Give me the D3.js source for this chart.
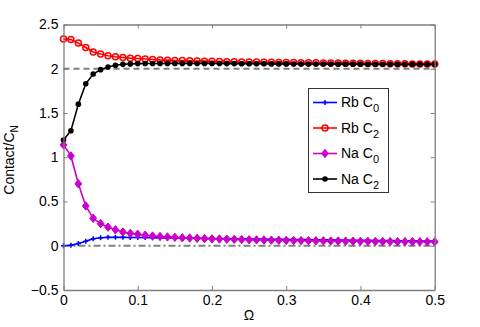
<!DOCTYPE html>
<html>
<head>
<meta charset="utf-8">
<script src="https://cdn.jsdelivr.net/npm/d3@7"></script>
<style>
  body { margin: 0; background: #fff; }
  svg { display: block; font-family: "Liberation Sans", Arial, sans-serif; }
</style>
</head>
<body>
<svg id="chart"></svg>
<script>
// Omega values (x axis)
const omega = [0, 0.01, 0.02, 0.03, 0.04, 0.05, 0.06, 0.07, 0.08, 0.09,
  0.10, 0.11, 0.12, 0.13, 0.14, 0.15, 0.16, 0.17, 0.18, 0.19,
  0.20, 0.21, 0.22, 0.23, 0.24, 0.25, 0.26, 0.27, 0.28, 0.29,
  0.30, 0.31, 0.32, 0.33, 0.34, 0.35, 0.36, 0.37, 0.38, 0.39,
  0.40, 0.41, 0.42, 0.43, 0.44, 0.45, 0.46, 0.47, 0.48, 0.49, 0.50];

const rbC0 = [0.00, 0.005, 0.025, 0.05, 0.08, 0.09, 0.095, 0.095, 0.095, 0.094,
  0.093, 0.092, 0.09, 0.089, 0.088, 0.087, 0.086, 0.085, 0.084, 0.083,
  0.082, 0.081, 0.08, 0.079, 0.078, 0.077, 0.076, 0.075, 0.074, 0.073,
  0.072, 0.071, 0.07, 0.069, 0.068, 0.067, 0.066, 0.065, 0.064, 0.063,
  0.062, 0.061, 0.06, 0.059, 0.058, 0.057, 0.056, 0.055, 0.054, 0.053, 0.052];

const rbC2 = [2.335, 2.33, 2.29, 2.24, 2.19, 2.167, 2.147, 2.136, 2.128, 2.12,
  2.115, 2.11, 2.105, 2.10, 2.097, 2.094, 2.092, 2.09, 2.088, 2.086,
  2.084, 2.082, 2.08, 2.078, 2.077, 2.076, 2.075, 2.074, 2.073, 2.072,
  2.071, 2.07, 2.069, 2.068, 2.067, 2.066, 2.065, 2.064, 2.063, 2.062,
  2.061, 2.06, 2.059, 2.058, 2.057, 2.056, 2.056, 2.055, 2.055, 2.054, 2.054];

const naC0 = [1.14, 1.015, 0.70, 0.45, 0.31, 0.25, 0.21, 0.18, 0.155, 0.14,
  0.13, 0.12, 0.11, 0.105, 0.10, 0.095, 0.09, 0.087, 0.084, 0.081,
  0.078, 0.076, 0.074, 0.072, 0.07, 0.068, 0.066, 0.065, 0.063, 0.062,
  0.06, 0.059, 0.058, 0.057, 0.056, 0.055, 0.054, 0.053, 0.052, 0.051,
  0.05, 0.049, 0.048, 0.048, 0.047, 0.046, 0.046, 0.045, 0.045, 0.044, 0.044];

const naC2 = [1.195, 1.30, 1.60, 1.83, 1.94, 1.99, 2.02, 2.04, 2.05, 2.055,
  2.058, 2.06, 2.06, 2.06, 2.06, 2.06, 2.06, 2.06, 2.06, 2.06,
  2.059, 2.059, 2.058, 2.058, 2.057, 2.057, 2.056, 2.056, 2.055, 2.055,
  2.055, 2.054, 2.054, 2.054, 2.053, 2.053, 2.053, 2.052, 2.052, 2.052,
  2.052, 2.051, 2.051, 2.051, 2.051, 2.05, 2.05, 2.05, 2.05, 2.05, 2.05];

const xTicks = [0, 0.1, 0.2, 0.3, 0.4, 0.5];
const yTicks = [-0.5, 0, 0.5, 1, 1.5, 2, 2.5];
const refLevels = [2, 0]; // dashed reference lines

const series = [
  { name: "Rb C", sub: "0", values: rbC0, color: "#0000ff", marker: "plus" },
  { name: "Rb C", sub: "2", values: rbC2, color: "#ff0000", marker: "circle" },
  { name: "Na C", sub: "0", values: naC0, color: "#cc00cc", marker: "diamond" },
  { name: "Na C", sub: "2", values: naC2, color: "#000000", marker: "dot" }
];

const width = 480, height = 327;
const margin = { top: 24.5, right: 45.3, bottom: 37, left: 63.5 };

const svg = d3.select("#chart").attr("width", width).attr("height", height);

const x = d3.scaleLinear().domain([0, 0.5]).range([margin.left, width - margin.right]);
const y = d3.scaleLinear().domain([-0.5, 2.5]).range([height - margin.bottom, margin.top]);

const axisColor = "#7f7f7f";

// reference lines
svg.append("line")
  .attr("x1", x(0)).attr("x2", x(0.5))
  .attr("y1", y(refLevels[0])).attr("y2", y(refLevels[0]))
  .attr("stroke", "#808080").attr("stroke-width", 2.2)
  .attr("stroke-dasharray", "6,4");
svg.append("line")
  .attr("x1", x(0)).attr("x2", x(0.5))
  .attr("y1", y(refLevels[1])).attr("y2", y(refLevels[1]))
  .attr("stroke", "#808080").attr("stroke-width", 2.2)
  .attr("stroke-dasharray", "7,3,2,3");

// marker drawing helper
function drawMarker(g, type, color, cx, cy) {
  if (type === "plus") {
    g.append("path")
      .attr("d", `M${cx - 2.5},${cy}H${cx + 2.5}M${cx},${cy - 2.5}V${cy + 2.5}`)
      .attr("stroke", color).attr("stroke-width", 1.5).attr("fill", "none");
  } else if (type === "circle") {
    g.append("circle").attr("cx", cx).attr("cy", cy).attr("r", 3)
      .attr("fill", "none").attr("stroke", color).attr("stroke-width", 1.5);
  } else if (type === "diamond") {
    g.append("path")
      .attr("d", `M${cx},${cy - 4.2}L${cx + 3.4},${cy}L${cx},${cy + 4.2}L${cx - 3.4},${cy}Z`)
      .attr("fill", color).attr("stroke", color).attr("stroke-width", 1);
  } else {
    g.append("circle").attr("cx", cx).attr("cy", cy).attr("r", 2.8).attr("fill", color);
  }
}

const line = d3.line().x(d => x(d[0])).y(d => y(d[1]));

series.forEach(s => {
  const pts = omega.map((o, i) => [o, s.values[i]]);
  const g = svg.append("g");
  g.append("path").datum(pts)
    .attr("fill", "none").attr("stroke", s.color).attr("stroke-width", 1.6)
    .attr("d", line);
  pts.forEach(p => drawMarker(g, s.marker, s.color, x(p[0]), y(p[1])));
});

// axes box with inward ticks (MATLAB style)
const axisG = svg.append("g");

const axBottom = axisG.append("g")
  .attr("transform", `translate(0,${y(-0.5)})`)
  .call(d3.axisBottom(x).tickValues(xTicks).tickSizeInner(-4).tickSizeOuter(0).tickPadding(5)
    .tickFormat(d => d === 0 ? "0" : d3.format(".1f")(d)));
const axTop = axisG.append("g")
  .attr("transform", `translate(0,${y(2.5)})`)
  .call(d3.axisTop(x).tickValues(xTicks).tickSizeInner(-4).tickSizeOuter(0).tickFormat(""));
const axLeft = axisG.append("g")
  .attr("transform", `translate(${x(0)},0)`)
  .call(d3.axisLeft(y).tickValues(yTicks).tickSizeInner(-4).tickSizeOuter(0).tickPadding(5)
    .tickFormat(d => d < 0 ? "\u2212" + Math.abs(d) : String(d)));
const axRight = axisG.append("g")
  .attr("transform", `translate(${x(0.5)},0)`)
  .call(d3.axisRight(y).tickValues(yTicks).tickSizeInner(-4).tickSizeOuter(0).tickFormat(""));

[axBottom, axTop, axLeft, axRight].forEach(a => {
  a.select(".domain").attr("stroke", axisColor).attr("stroke-width", 1.3);
  a.selectAll(".tick line").attr("stroke", axisColor);
  a.selectAll("text").attr("fill", "#000")
    .style("font-size", "14px")
    .style("font-family", "'Liberation Sans', Arial, sans-serif");
});

// axis labels
svg.append("text")
  .attr("x", x(0.25)).attr("y", 320)
  .attr("text-anchor", "middle").style("font-size", "14px")
  .text("\u03A9");

const yl = svg.append("text")
  .attr("transform", `translate(14,160) rotate(-90)`)
  .attr("text-anchor", "middle").style("font-size", "14px");
yl.append("tspan").text("Contact/C");
yl.append("tspan").style("font-size", "10px").attr("dy", 4).text("N");

// legend
const legend = svg.append("g");
legend.append("rect")
  .attr("x", 308.5).attr("y", 88.5).attr("width", 80).attr("height", 104)
  .attr("fill", "#fff").attr("stroke", "#333").attr("stroke-width", 1);

series.forEach((s, i) => {
  const ly = 102.5 + i * 25.5;
  legend.append("line")
    .attr("x1", 313).attr("x2", 337).attr("y1", ly).attr("y2", ly)
    .attr("stroke", s.color).attr("stroke-width", 1.6);
  drawMarker(legend, s.marker, s.color, 325, ly);
  const t = legend.append("text").attr("x", 341).attr("y", ly + 4.5).style("font-size", "14px");
  t.append("tspan").text(s.name);
  t.append("tspan").style("font-size", "11px").attr("dy", 5).text(s.sub);
});
</script>
</body>
</html>
